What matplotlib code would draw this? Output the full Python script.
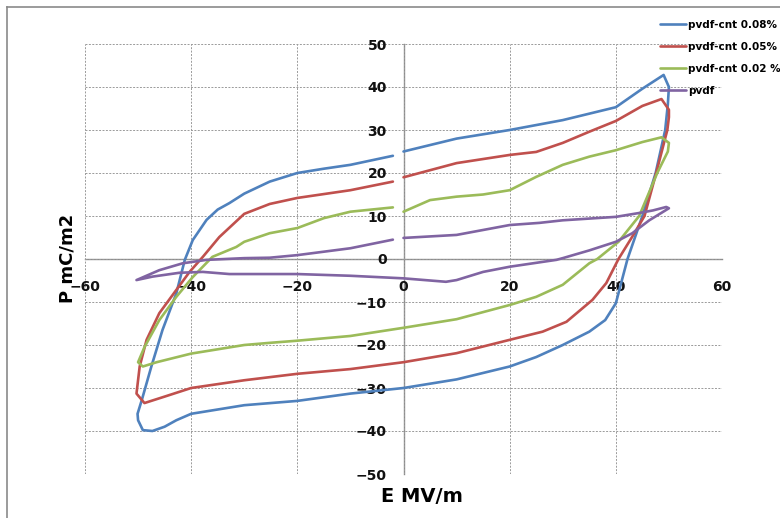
import matplotlib
matplotlib.use("Agg")
import matplotlib.pyplot as plt
from matplotlib.lines import Line2D

# ---- data ----
labels = ["pvdf-cnt 0.08%", "pvdf-cnt 0.05%", "pvdf-cnt 0.02 %", "pvdf"]
colors = ["#4F81BD", "#C0504D", "#9BBB59", "#8064A2"]

e_blue = [0, 10, 20, 30, 40, 45, 49, 50, 49.8, 49.3, 47.5, 45, 42.2, 41, 40, 38, 35, 30, 25, 20, 10, 0,
          -10, -20, -30, -40, -42.8, -45, -47.3, -49.1, -50, -50.1, -49.3, -47.5, -45.4, -42.8, -41.2,
          -39.7, -37.1, -35, -32.8, -30, -25.2, -20, -15, -10, -2]
p_blue = [25, 28, 30, 32.3, 35.3, 39.6, 42.8, 40, 36, 30, 20, 10, 0, -5.6, -10.3, -14.2, -16.9, -20, -22.8, -25, -28, -30,
          -31.3, -33, -34, -36, -37.5, -39, -40, -39.8, -37.5, -36, -32.8, -25, -16.5, -8, -0.2,
          4.4, 9.1, 11.5, 13, 15.2, 18, 20, 21, 21.9, 24]

e_red = [0, 10, 20, 25, 30, 35, 40, 45, 48.6, 50, 50, 49.7, 47.6, 45.4, 43, 40.5, 38.2, 35.6, 30.7, 26.2, 20, 10, 0,
         -10, -20, -30, -40, -45, -48.8, -50.3, -49.7, -48.4, -46, -42.8, -40.3, -37.8, -34.7, -30, -25.2, -20, -10, -2]
p_red = [19, 22.3, 24.2, 24.9, 27, 29.6, 32.1, 35.6, 37.2, 34.7, 33, 30, 20, 10, 5, 0, -5.6, -9.5, -14.6, -16.9, -18.8, -21.9, -24,
         -25.6, -26.7, -28.2, -30, -32, -33.5, -31.3, -25, -18.8, -12.6, -7.2, -3, 0.5, 5.1, 10.5, 12.8, 14.2, 16, 18]

e_green = [0, 5, 10, 15, 20, 25, 30, 35, 40, 45, 48.6, 50, 49.8, 47.8, 44.4, 40.5, 36.5, 35, 30, 25, 20, 10, 0,
           -10, -20, -25.2, -30, -40, -46.5, -49.1, -50, -48.8, -46, -42.8, -39.7, -36, -31.5, -30, -25.2, -20, -15, -10, -2]
p_green = [11, 13.7, 14.5, 15, 16, 19.1, 21.9, 23.8, 25.3, 27.2, 28.3, 27, 25, 20, 10, 4, 0, -1, -6, -8.8, -10.7, -14, -16,
           -17.9, -19, -19.5, -20, -22, -24, -25, -24, -20.5, -14.2, -8.8, -4.2, 0.5, 2.8, 4, 6, 7.2, 9.5, 11, 12]

e_purple = [0, 10, 20, 25.6, 30, 40, 44.4, 47, 49.5, 50, 46.3, 43.1, 40, 35, 30, 28.8, 20, 15, 10, 8, 5, 0,
            -10, -20, -30, -32.8, -37.8, -42.2, -47.3, -50.3, -46, -41.6, -37.1, -30, -25.2, -20, -10, -2]
p_purple = [4.9, 5.6, 7.9, 8.4, 9, 9.8, 10.7, 11.3, 12.1, 11.8, 9, 6, 4, 2, 0.2, -0.2, -1.8, -3, -4.9, -5.3, -5, -4.5,
            -3.9, -3.5, -3.5, -3.5, -3, -3.2, -4.1, -4.9, -2.6, -1, -0.2, 0.2, 0.3, 0.9, 2.5, 4.5]

series_e = [e_blue, e_red, e_green, e_purple]
series_p = [p_blue, p_red, p_green, p_purple]

x_ticks = [-60, -40, -20, 0, 20, 40, 60]
y_ticks = [-50, -40, -30, -20, -10, 0, 10, 20, 30, 40, 50]

# ---- figure ----
fig = plt.figure(figsize=(7.8, 5.18), dpi=100)
ax = fig.add_axes([85 / 780, 1 - 474 / 518, (722 - 85) / 780, (474 - 44) / 518])

handles = []
for e, p, c, lab in zip(series_e, series_p, colors, labels):
    h, = ax.plot(e, p, color=c, lw=1.9, label=lab, solid_capstyle="round",
                 solid_joinstyle="round", zorder=3)
    handles.append(h)

ax.set_xlim(-60, 60)
ax.set_ylim(-50, 50)
ax.set_xticks(x_ticks)
ax.set_yticks(y_ticks)
ax.grid(True, color="#9a9a9a", linestyle=(0, (2.0, 1.5)), linewidth=0.7, zorder=0)
for gl in ax.get_xgridlines() + ax.get_ygridlines():
    gl.set_clip_on(False)

for s in ["top", "right"]:
    ax.spines[s].set_visible(False)
ax.spines["left"].set_position("zero")
ax.spines["bottom"].set_position("zero")
for s in ["left", "bottom"]:
    ax.spines[s].set_color("#8c8c8c")
    ax.spines[s].set_linewidth(1.0)
    ax.spines[s].set_zorder(1)

ax.tick_params(axis="x", length=0, pad=15, labelsize=10)
ax.tick_params(axis="y", length=0, pad=12, labelsize=10)
for t in ax.get_xticklabels() + ax.get_yticklabels():
    t.set_fontweight("bold")
    t.set_color("#111111")

fig.text(422 / 780, 1 - 497 / 518, "E MV/m", ha="center", va="center",
         fontsize=14, fontweight="bold")
fig.text(68 / 780, 1 - 258 / 518, "P mC/m2", ha="center", va="center",
         fontsize=13, fontweight="bold", rotation=90)

fig.legend(handles=handles, labels=labels, loc="upper left",
           bbox_to_anchor=(660 / 780, 1 - 20 / 518), frameon=False,
           prop={"size": 7.5, "weight": "bold"}, handlelength=2.5,
           handletextpad=0.2, labelspacing=1.15, borderpad=0, borderaxespad=0)

# outer chart border (left and top visible)
fig.add_artist(Line2D([7 / 780, 7 / 780], [0, 1 - 7 / 518], color="#8a8a8a", lw=1.2))
fig.add_artist(Line2D([7 / 780, 1], [1 - 7 / 518, 1 - 7 / 518], color="#8a8a8a", lw=1.2))

fig.savefig("out.png", dpi=100)
